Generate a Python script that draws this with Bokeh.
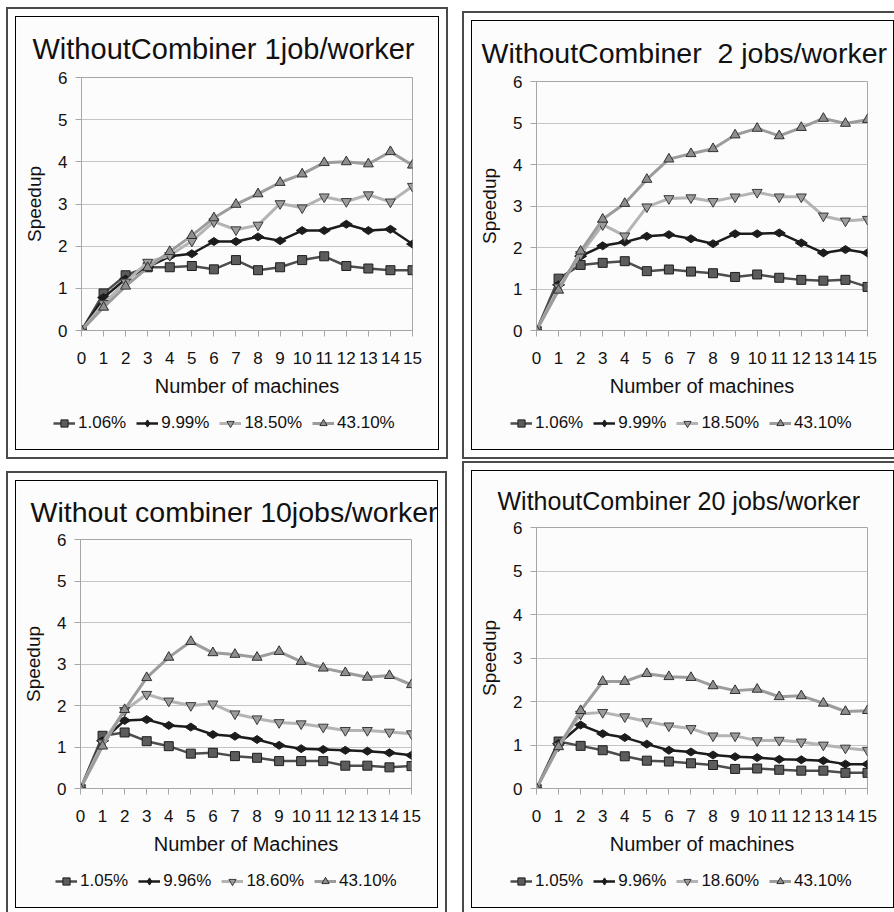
import math
from bokeh.plotting import figure
from bokeh.models import Range1d, FixedTicker, Legend, LegendItem
from bokeh.layouts import row, column
from bokeh.embed import file_html
from bokeh.resources import INLINE

machines = list(range(16))

titles = ["WithoutCombiner 1job/worker", "WithoutCombiner\u00a0 2 jobs/worker",
          "Without combiner 10jobs/worker", "WithoutCombiner 20 jobs/worker"]
x_titles = ["Number of machines", "Number of machines", "Number of Machines", "Number of machines"]
y_title = "Speedup"
labels_top = ["1.06%", "9.99%", "18.50%", "43.10%"]
labels_bottom = ["1.05%", "9.96%", "18.60%", "43.10%"]

# 1 job / worker
p1_s1 = [0, 0.88, 1.31, 1.50, 1.50, 1.53, 1.45, 1.67, 1.43, 1.50, 1.67, 1.76, 1.53, 1.47, 1.43, 1.43]
p1_s2 = [0, 0.78, 1.22, 1.50, 1.76, 1.82, 2.11, 2.11, 2.22, 2.13, 2.37, 2.37, 2.52, 2.37, 2.40, 2.05]
p1_s3 = [0, 0.64, 1.15, 1.62, 1.78, 2.12, 2.58, 2.39, 2.50, 3.01, 2.91, 3.17, 3.06, 3.22, 3.05, 3.42]
p1_s4 = [0, 0.55, 1.05, 1.49, 1.87, 2.25, 2.67, 2.99, 3.24, 3.51, 3.71, 3.98, 4.00, 3.95, 4.24, 3.92]
# 2 jobs / worker
p2_s1 = [0, 1.25, 1.58, 1.63, 1.67, 1.43, 1.47, 1.42, 1.38, 1.29, 1.35, 1.27, 1.22, 1.20, 1.22, 1.05]
p2_s2 = [0, 1.10, 1.79, 2.04, 2.13, 2.27, 2.31, 2.21, 2.09, 2.33, 2.33, 2.35, 2.11, 1.87, 1.95, 1.87]
p2_s3 = [0, 1.05, 1.83, 2.55, 2.28, 2.98, 3.18, 3.20, 3.11, 3.22, 3.33, 3.22, 3.22, 2.76, 2.64, 2.68]
p2_s4 = [0, 0.97, 1.91, 2.68, 3.06, 3.64, 4.13, 4.26, 4.38, 4.71, 4.87, 4.69, 4.89, 5.11, 4.99, 5.08]
# 10 jobs / worker
p3_s1 = [0, 1.27, 1.35, 1.14, 1.02, 0.84, 0.86, 0.78, 0.74, 0.66, 0.66, 0.66, 0.55, 0.55, 0.51, 0.54]
p3_s2 = [0, 1.15, 1.64, 1.66, 1.52, 1.48, 1.30, 1.26, 1.18, 1.04, 0.96, 0.94, 0.92, 0.90, 0.86, 0.80]
p3_s3 = [0, 1.10, 1.88, 2.27, 2.11, 2.00, 2.04, 1.80, 1.68, 1.59, 1.56, 1.48, 1.40, 1.40, 1.36, 1.32]
p3_s4 = [0, 1.02, 1.90, 2.67, 3.16, 3.54, 3.27, 3.23, 3.16, 3.30, 3.06, 2.90, 2.79, 2.68, 2.72, 2.50]
# 20 jobs / worker
p4_s1 = [0, 1.08, 0.98, 0.88, 0.74, 0.64, 0.62, 0.58, 0.54, 0.45, 0.46, 0.43, 0.41, 0.41, 0.36, 0.36]
p4_s2 = [0, 1.03, 1.46, 1.26, 1.17, 1.02, 0.88, 0.84, 0.77, 0.73, 0.71, 0.67, 0.66, 0.64, 0.56, 0.56]
p4_s3 = [0, 0.98, 1.71, 1.75, 1.65, 1.54, 1.44, 1.38, 1.21, 1.21, 1.10, 1.11, 1.07, 1.00, 0.93, 0.88]
p4_s4 = [0, 0.96, 1.79, 2.46, 2.46, 2.64, 2.57, 2.55, 2.36, 2.25, 2.28, 2.11, 2.13, 1.96, 1.77, 1.79]

FONT = "Liberation Sans"
BG = "#fcfcfc"
LEG_H = 50

series_styles = [
    dict(line="#4d4d4d", marker="square", fill="#5c5c5c", mline="#1e1e1e", size=9, angle=0.0, lw=2.5),
    dict(line="#1c1c1c", marker="diamond", fill="#1c1c1c", mline="#1c1c1c", size=12, angle=math.pi / 2, lw=2.5),
    dict(line="#b4b4b4", marker="inverted_triangle", fill="#9c9c9c", mline="#3a3a3a", size=10, angle=0.0, lw=3),
    dict(line="#9c9c9c", marker="triangle", fill="#8e8e8e", mline="#303030", size=10, angle=0.0, lw=3),
]


def draw_series(fig, vals, st):
    r1 = fig.line(machines, vals, line_color=st["line"], line_width=st["lw"])
    r2 = fig.scatter(machines, vals, marker=st["marker"], size=st["size"], angle=st["angle"],
                     fill_color=st["fill"], line_color=st["mline"], line_width=1)
    return [r1, r2]


def make_panel(title, xlabel, labels, data, w, h, borders, title_font, title_offset,
               title_standoff, margin, legend_x):
    left, right, top, bottom = borders
    p = figure(width=w, height=h - LEG_H, x_range=Range1d(0, 15), y_range=Range1d(0, 6),
               output_backend="svg", toolbar_location=None,
               min_border_left=left, min_border_right=right,
               min_border_top=top, min_border_bottom=bottom - LEG_H,
               background_fill_color=BG, border_fill_color=BG,
               outline_line_color="#a6a6a6")
    p.title.text = title
    p.title.text_font = FONT
    p.title.text_font_size = title_font
    p.title.text_font_style = "normal"
    p.title.text_color = "#111111"
    p.title.align = "left"
    p.title.offset = title_offset
    p.title.standoff = title_standoff

    p.xgrid.visible = False
    p.ygrid.grid_line_color = "#c4c4c4"
    p.ygrid.grid_line_width = 1

    p.xaxis.ticker = FixedTicker(ticks=machines)
    p.yaxis.ticker = FixedTicker(ticks=[0, 1, 2, 3, 4, 5, 6])
    for ax in (p.xaxis[0], p.yaxis[0]):
        ax.axis_line_color = "#a6a6a6"
        ax.major_tick_line_color = "#a6a6a6"
        ax.major_tick_out = 6
        ax.major_tick_in = 0
        ax.minor_tick_line_color = None
        ax.major_label_text_font = FONT
        ax.major_label_text_font_size = "17px"
        ax.major_label_text_color = "#111111"
        ax.axis_label_text_font = FONT
        ax.axis_label_text_font_style = "normal"
        ax.axis_label_text_color = "#111111"
        ax.axis_label_text_font_size = "19px"
    p.xaxis.major_label_standoff = 15
    p.yaxis.major_label_standoff = 8
    p.xaxis.axis_label = xlabel
    p.xaxis.axis_label_text_font_size = "20px"
    p.xaxis.axis_label_standoff = 8
    p.yaxis.axis_label = y_title
    p.yaxis.axis_label_standoff = 10

    for vals, st in zip(data, series_styles):
        draw_series(p, vals, st)

    # legend strip (same series, drawn outside its visible range so only the legend shows)
    lf = figure(width=w, height=LEG_H, x_range=Range1d(0, 15), y_range=Range1d(-20, -10),
                output_backend="svg", toolbar_location=None,
                x_axis_location=None, y_axis_location=None,
                min_border_left=0, min_border_right=0, min_border_top=0, min_border_bottom=0,
                background_fill_color=BG, border_fill_color=BG, outline_line_color=None)
    lf.grid.visible = False
    items = []
    for vals, lab, st in zip(data, labels, series_styles):
        items.append(LegendItem(label=lab, renderers=draw_series(lf, vals, st)))
    leg = Legend(items=items, orientation="horizontal", location=(legend_x, 16),
                 glyph_width=22, label_standoff=3, spacing=10)
    leg.label_text_font = FONT
    leg.label_text_font_size = "17px"
    leg.label_text_color = "#111111"
    leg.glyph_height = 18
    leg.padding = 0
    leg.margin = 0
    leg.border_line_color = None
    leg.background_fill_alpha = 0
    lf.add_layout(leg, "center")

    shadow = {"box-shadow": "0 0 0 1px #000000, 0 0 0 8px #ffffff, 0 0 0 10px #4a4a4a"}
    return column(p, row(lf), margin=margin, styles=shadow)


b1 = make_panel(titles[0], x_titles[0], labels_top, [p1_s1, p1_s2, p1_s3, p1_s4],
                422, 432, (65, 26, 60, 117), "29px", -49, 25, (17, 0, 0, 16), 37)
b2 = make_panel(titles[1], x_titles[1], labels_top, [p2_s1, p2_s2, p2_s3, p2_s4],
                421, 428, (64, 26, 60, 117), "28.5px", -55, 25, (21, 0, 0, 34), 38)
b3 = make_panel(titles[2], x_titles[2], labels_bottom, [p3_s1, p3_s2, p3_s3, p3_s4],
                421, 426, (64, 26, 58, 119), "28.5px", -50, 23, (32, 0, 0, 16), 39)
b4 = make_panel(titles[3], x_titles[3], labels_bottom, [p4_s1, p4_s2, p4_s3, p4_s4],
                421, 436, (64, 26, 56, 119), "25px", -39, 25, (22, 0, 0, 35), 38)

layout = column(row(b1, b2), row(b3, b4))
open("out.html", "w").write(file_html(layout, INLINE))
